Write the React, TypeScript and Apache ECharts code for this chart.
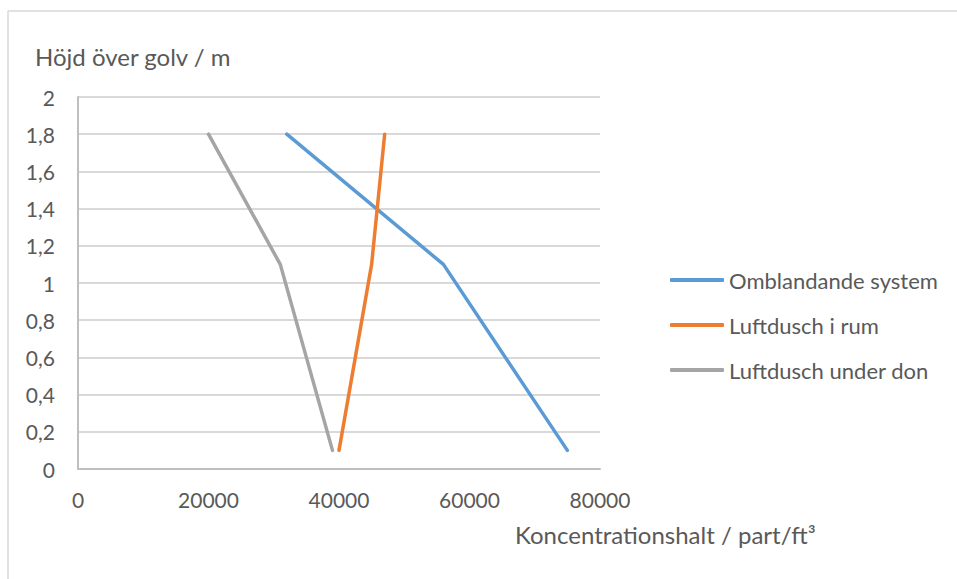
import React, { useEffect, useRef } from "react";
import * as echarts from "echarts";

const heights = [1.8, 1.1, 0.1];
const seriesNames = ["Omblandande system", "Luftdusch i rum", "Luftdusch under don"];
const omblandande = [32000, 56000, 75000];
const luftduschRum = [47000, 45000, 40000];
const luftduschDon = [20000, 31000, 39000];
const colors = ["#5B9BD5", "#ED7D31", "#A5A5A5"];
const yTitle = "Höjd över golv / m";
const xTitle = "Koncentrationshalt / part/ft³";

const FONT = "Lato, 'Open Sans', sans-serif";

export default function App() {
  const ref = useRef<HTMLDivElement>(null);
  useEffect(() => {
    if (!ref.current) return;
    const chart = echarts.init(ref.current, undefined, { renderer: "svg" });
    const all = [omblandande, luftduschRum, luftduschDon];
    chart.setOption({
      animation: false,
      backgroundColor: "#ffffff",
      textStyle: { fontFamily: FONT },
      grid: { left: 78, right: 357, top: 97, bottom: 110, containLabel: false },
      legend: {
        orient: "vertical",
        left: 670,
        top: 269,
        padding: 0,
        itemGap: 23,
        itemWidth: 54,
        itemHeight: 4,
        icon: "roundRect",
        textStyle: { fontSize: 22, color: "#595959", fontFamily: FONT },
        data: seriesNames,
      },
      xAxis: {
        type: "value",
        min: 0,
        max: 80000,
        interval: 20000,
        axisLine: { show: true, lineStyle: { color: "#bfbfbf", width: 2 } },
        axisTick: { show: false },
        splitLine: { show: false },
        axisLabel: {
          color: "#595959",
          fontSize: 21,
          margin: 20,
          fontFamily: FONT,
          formatter: (v: number) => String(v),
        },
      },
      yAxis: {
        type: "value",
        min: 0,
        max: 2,
        interval: 0.2,
        axisLine: { show: true, lineStyle: { color: "#bfbfbf", width: 2 } },
        axisTick: { show: false },
        splitLine: { show: true, lineStyle: { color: "#d9d9d9", width: 2 } },
        axisLabel: {
          color: "#595959",
          fontSize: 21,
          margin: 23,
          fontFamily: FONT,
          formatter: (v: number) => String(Math.round(v * 10) / 10).replace(".", ","),
        },
      },
      series: seriesNames.map((name, i) => ({
        name,
        type: "line",
        data: heights.map((h, j) => [all[i][j], h]),
        showSymbol: false,
        symbol: "none",
        color: colors[i],
        lineStyle: { color: colors[i], width: 3.5, cap: "round", join: "round" },
      })),
      graphic: [
        { type: "line", shape: { x1: 8, y1: 11, x2: 957, y2: 11 }, style: { stroke: "#d9d9d9", lineWidth: 1.5 } },
        { type: "line", shape: { x1: 8, y1: 11, x2: 8, y2: 579 }, style: { stroke: "#d9d9d9", lineWidth: 1.5 } },
        {
          type: "text",
          left: 35,
          top: 44,
          style: { text: yTitle, fontSize: 24, fill: "#595959", fontFamily: FONT },
        },
        {
          type: "text",
          left: 515,
          top: 522,
          style: { text: xTitle, fontSize: 24, fill: "#595959", fontFamily: FONT },
        },
      ],
    });
    return () => chart.dispose();
  }, []);
  return (
    <div
      ref={ref}
      style={{ position: "fixed", left: 0, top: 0, width: 957, height: 579 }}
    />
  );
}
